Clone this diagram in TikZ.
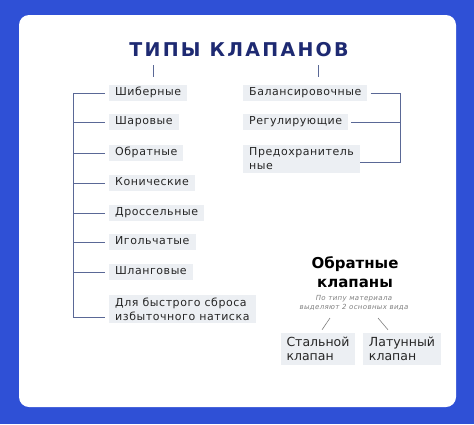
\documentclass[tikz,border=0pt]{standalone}
\usepackage{fontspec}
\setmainfont{DejaVu Sans}[LetterSpace=5]
\usetikzlibrary{positioning}
\definecolor{bgblue}{HTML}{2F50D6}
\definecolor{navy}{HTML}{1E2A72}
\definecolor{boxgray}{HTML}{ECEFF3}
\definecolor{linegray}{HTML}{5A6896}
\definecolor{txtgray}{HTML}{262626}
\tikzset{
  item/.style={fill=boxgray, text=txtgray, font=\fontsize{11}{14}\selectfont,
    inner xsep=6pt, inner ysep=3pt, text height=8pt, text depth=2.5pt},
  pair/.style={fill=boxgray, text=txtgray, font=\fontsize{11}{14}\selectfont,
    inner xsep=6pt, inner ysep=3pt, align=left},
  kind/.style={pair, font=\fontsize{12.5}{14}\selectfont\addfontfeature{LetterSpace=0},
    minimum width=70pt, minimum height=32pt, inner ysep=2pt},
  link/.style={draw=linegray, line width=0.8pt},
  slant/.style={draw=gray, line width=0.6pt},
}

\begin{document}
\begin{tikzpicture}[x=1pt,y=-1pt]
    \fill[bgblue] (0,0) rectangle (474,424);
    \fill[white, rounded corners=10pt] (19,15) rectangle (456,407);
    \node[font=\fontsize{19}{22}\selectfont\bfseries\addfontfeature{LetterSpace=12}, text=navy] (title) at (239,50) {ТИПЫ КЛАПАНОВ};
    \draw[link, line width=0.6pt] (153,65) -- (153,77);
    \draw[link, line width=0.6pt] (318,65) -- (318,77);
    % left column
    \node[item, anchor=west] (shib) at (109,93) {Шиберные};
    \node[item, anchor=west] (shar) at (109,122) {Шаровые};
    \node[item, anchor=west] (obr) at (109,153) {Обратные};
    \node[item, anchor=west] (kon) at (109,183) {Конические};
    \node[item, anchor=west] (dros) at (109,213) {Дроссельные};
    \node[item, anchor=west] (igol) at (109,242) {Игольчатые};
    \node[item, anchor=west] (shlang) at (109,272) {Шланговые};
    \node[pair, anchor=west] (sbros) at (109,309) {Для быстрого сброса\\избыточного натиска};
    \coordinate (lspine) at (73,93);
    \coordinate (lend) at (73,317);
    \foreach \n in {shib,shar,obr,kon,dros,igol,shlang}
        \draw[link, shorten >=4pt] (lspine |- \n.west) -- (\n.west);
    \draw[link, shorten >=4pt] (lspine) -- (lend) -- (lend -| sbros.west);
    % right column
    \node[item, anchor=west] (bal) at (243,93) {Балансировочные};
    \node[item, anchor=west] (reg) at (243,122) {Регулирующие};
    \node[pair, anchor=west] (pred) at (243,159) {Предохранитель\\ные};
    \coordinate (rspine) at (400,93);
    \coordinate (rend) at (400,162);
    \draw[link, shorten <=3pt] (bal.east) -- (rspine) -- (rend) -- (rend -| pred.east);
    \draw[link, shorten <=3pt] (reg.east) -- (rspine |- reg.east);
    % check valves
    \node[font=\fontsize{15}{19}\selectfont\bfseries\addfontfeature{LetterSpace=0}, text=black, align=center] (chk) at (355,272) {Обратные\\клапаны};
    \node[font=\fontsize{7}{9}\selectfont\itshape, text=gray, align=center] (note) at (354,303) {По типу материала\\выделяют 2 основных вида};
    \node[kind] (steel) at (318,349) {Стальной\\клапан};
    \node[kind] (brass) at (402,349) {Латунный\\клапан};
    \coordinate (sl) at (330,318);
    \coordinate (sr) at (378,318);
    \draw[slant] (sl) -- ([shift={(4,-3)}]steel.north);
    \draw[slant] (sr) -- ([shift={(-14,-3)}]brass.north);
\end{tikzpicture}
\end{document}
